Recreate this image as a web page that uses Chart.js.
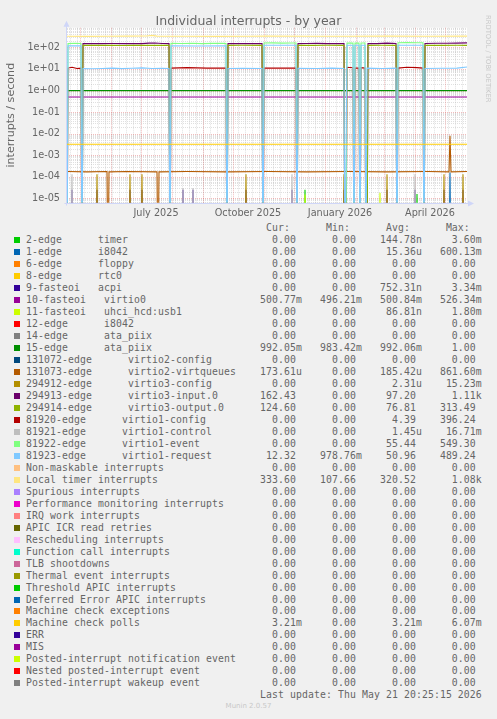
<!DOCTYPE html>
<html>
<head>
<meta charset="utf-8">
<script src="https://cdn.jsdelivr.net/npm/chart.js@4.4.1/dist/chart.umd.min.js"></script>
<style>
  html, body { margin:0; padding:0; background:#F0F0F0; }
  #page { position:relative; width:497px; height:719px; overflow:hidden; background:#F0F0F0; }
  #chart { position:absolute; left:0; top:0; }
  .row { position:absolute; left:26px; height:12px; line-height:12px; white-space:pre;
         font-family:"DejaVu Sans Mono", monospace; font-size:9.8px; letter-spacing:0.1px; color:#666; }
  .box { position:absolute; left:14px; width:6px; height:6px; }
  #title { position:absolute; left:0; top:12.5px; width:497px; text-align:center; line-height:15px;
           font-family:"DejaVu Sans", sans-serif; font-size:12.5px; color:#666; }
  #rrd { position:absolute; left:484px; top:15px; writing-mode:vertical-rl; white-space:pre;
         font-family:"DejaVu Sans", sans-serif; font-size:6.8px; color:#C8C8C8; }
  #munin { position:absolute; left:0; width:497px; top:702px; text-align:center;
           font-family:"DejaVu Sans", sans-serif; font-size:7px; color:#C8C8C8; }
</style>
</head>
<body>
<div id="page">
  <canvas id="chart" width="497" height="222"></canvas>
  <div id="title">Individual interrupts - by year</div>
  <div id="rrd">RRDTOOL / TOBI OETIKER</div>
  <div id="legend"></div>
  <div id="munin">Munin 2.0.57</div>
</div>
<script>
// ---------------- data (x = day index across the 400-day window, y = interrupts/s) ----------------
const seriesNames = [
  '2-edge      timer', '1-edge      i8042', '6-edge      floppy', '8-edge      rtc0',
  '9-fasteoi   acpi', '10-fasteoi   virtio0', '11-fasteoi   uhci_hcd:usb1', '12-edge      i8042',
  '14-edge      ata_piix', '15-edge      ata_piix', '131072-edge      virtio2-config',
  '131073-edge      virtio2-virtqueues', '294912-edge      virtio3-config',
  '294913-edge      virtio3-input.0', '294914-edge      virtio3-output.0',
  '81920-edge      virtio1-config', '81921-edge      virtio1-control',
  '81922-edge      virtio1-event', '81923-edge      virtio1-request',
  'Non-maskable interrupts', 'Local timer interrupts', 'Spurious interrupts',
  'Performance monitoring interrupts', 'IRQ work interrupts', 'APIC ICR read retries',
  'Rescheduling interrupts', 'Function call interrupts', 'TLB shootdowns',
  'Thermal event interrupts', 'Threshold APIC interrupts', 'Deferred Error APIC interrupts',
  'Machine check exceptions', 'Machine check polls', 'ERR', 'MIS',
  'Posted-interrupt notification event', 'Nested posted-interrupt event', 'Posted-interrupt wakeup event'
];
const seriesColors = [
  '#00CC00','#0066B3','#FF8000','#FFCC00','#330099','#990099','#CCFF00','#FF0000','#808080','#008F00',
  '#00487D','#B35A00','#B38F00','#6B006B','#8FB300','#B30000','#BEBEBE','#80FF80','#80C9FF','#FFC080',
  '#FFE680','#AA80FF','#EE00CC','#FF8080','#666600','#FFBFFF','#00FFCC','#CC6699','#999900','#00CC00',
  '#0066B3','#FF8000','#FFCC00','#330099','#990099','#CCFF00','#FF0000','#808080'
];
const curVals = ['0.00','0.00','0.00','0.00','0.00','500.77m','0.00','0.00','0.00','992.05m','0.00','173.61u','0.00','162.43','124.60','0.00','0.00','0.00','12.32','0.00','333.60','0.00','0.00','0.00','0.00','0.00','0.00','0.00','0.00','0.00','0.00','0.00','3.21m','0.00','0.00','0.00','0.00','0.00'];
const minVals = ['0.00','0.00','0.00','0.00','0.00','496.21m','0.00','0.00','0.00','983.42m','0.00','0.00','0.00','0.00','0.00','0.00','0.00','0.00','978.76m','0.00','107.66','0.00','0.00','0.00','0.00','0.00','0.00','0.00','0.00','0.00','0.00','0.00','0.00','0.00','0.00','0.00','0.00','0.00'];
const avgVals = ['144.78n','15.36u','0.00','0.00','752.31n','500.84m','86.81n','0.00','0.00','992.06m','0.00','185.42u','2.31u','97.20','76.81','4.39','1.45u','55.44','50.96','0.00','320.52','0.00','0.00','0.00','0.00','0.00','0.00','0.00','0.00','0.00','0.00','0.00','3.21m','0.00','0.00','0.00','0.00','0.00'];
const maxVals = ['3.60m','600.13m','0.00','0.00','3.34m','526.34m','1.80m','0.00','0.00','1.00','0.00','861.60m','15.23m','1.11k','313.49','396.24','16.71m','549.30','489.24','0.00','1.08k','0.00','0.00','0.00','0.00','0.00','0.00','0.00','0.00','0.00','0.00','0.00','6.07m','0.00','0.00','0.00','0.00','0.00'];

const yTickValues = [1e-5, 1e-4, 1e-3, 1e-2, 1e-1, 1e0, 1e1, 1e2];
const yTickLabels = ['1e-05','1e-04','1e-03','1e-02','1e-01','1e+00','1e+01','1e+02'];
const xTickDays = [89, 181, 273, 363];
const xTickLabels = ['July 2025','October 2025','January 2026','April 2026'];

// line series: [day, value]
const timerSpikes   = [[238, 2.5e-5], [350, 1.6e-5]];
const i8042Spikes   = [[383, 1.6e-4]];
const acpiSpikes    = [[5,2.5e-5],[30,2.5e-5],[63,2.5e-5],[75,2.5e-5],[116,2.5e-5],[126,2.5e-5],[179,2.5e-5],[225,2.5e-5],[277,2.5e-5],[320,2.5e-5],[348,2.5e-5],[377,2.5e-5],[396,2.5e-5]];
const virtio0Line   = [[0,0.5008],[100,0.5006],[200,0.5010],[300,0.5008],[400,0.5008]];
const uhciSpikes    = [[238,1.5e-5],[313,1.8e-5],[357,1.6e-5]];
const ataPiix15Line = [[0,0.992],[100,0.992],[200,0.992],[300,0.992],[400,0.992]];
const vqueuesLine   = [[0,1.75e-4],[20,1.7e-4],[40,1.75e-4],[41,0],[42,1.7e-4],[60,1.75e-4],[90,1.7e-4],[91,0],[92,1.7e-4],[120,1.75e-4],[160,1.7e-4],[200,1.75e-4],[240,1.7e-4],[280,1.75e-4],[320,1.7e-4],[360,1.75e-4],[382,1.7e-4],[383,8e-3],[384,1.7e-4],[400,1.75e-4]];
const v3ConfigSpikes= [[30,1.3e-4],[63,1.3e-4],[75,1.3e-4],[179,1.3e-4],[277,1.3e-4],[320,1.3e-4],[377,1.3e-4],[396,1.3e-4]];
const v3InputLine   = [[0,0],[15,0],[16,150],[25,152],[35,150],[45,151],[55,149],[65,152],[75,150],[82,158],[88,160],[95,152],[102,150],[103,0],[160,0],[161,150],[170,150],[180,152],[190,150],[195,150],[196,0],[230,0],[231,150],[240,151],[250,153],[260,150],[270,152],[277,150],[278,0],[300,0],[301,152],[310,150],[320,158],[329,152],[330,0],[357,0],[358,152],[370,155],[380,155],[390,158],[400,162]];
const v3OutputLine  = [[0,0],[15,0],[16,125],[25,124],[35,126],[45,124],[55,123],[65,125],[75,124],[85,126],[95,124],[102,125],[103,0],[160,0],[161,124],[175,125],[195,124],[196,0],[230,0],[231,125],[245,124],[260,125],[277,124],[278,0],[300,0],[301,124],[315,125],[329,124],[330,0],[357,0],[358,125],[375,124],[390,125],[400,124.6]];
const v1ConfigLine  = [[0,0],[1,11],[5,12],[10,10.5],[14,11],[15,0],[103,0],[104,11],[120,11.5],[140,11],[159,11],[160,0],[196,0],[197,11],[229,11],[230,0],[279,0],[280,12],[286,11.5],[287,0],[288,11],[292,11],[293,0],[294,11.5],[298,11],[299,0],[330,0],[331,11],[340,12],[350,11.5],[356,11],[357,0],[400,0]];
const v1ControlSpikes = [[5,1.3e-4],[116,3e-5],[126,3e-5],[225,1.3e-4],[348,1.3e-4]];
const v1EventLine   = [[0,0],[1,150],[8,155],[14,152],[15,0],[103,0],[104,155],[115,152],[125,155],[135,150],[145,153],[155,155],[159,152],[160,0],[196,0],[197,160],[205,162],[215,158],[225,160],[229,160],[230,0],[279,0],[280,160],[286,158],[287,0],[288,158],[292,158],[293,0],[294,160],[298,160],[299,0],[330,0],[331,165],[340,168],[350,165],[356,165],[357,0],[400,0]];
const v1RequestLine = [[0,0],[1,118],[14,118],[15,0],[16,10.5],[25,10.2],[35,10.6],[45,11],[55,10.4],[65,10.8],[75,11.2],[85,10.5],[95,10.8],[102,10.5],[103,0],[104,118],[130,116],[159,118],[160,0],[161,10.5],[175,10.8],[195,10.5],[196,0],[197,125],[229,125],[230,0],[231,10.8],[250,10.5],[265,11],[277,10.5],[278,0],[280,125],[286,125],[287,0],[288,125],[292,125],[293,0],[294,125],[298,125],[299,0],[300,11],[315,10.5],[329,11],[330,0],[331,125],[356,125],[357,0],[358,10.5],[375,10.8],[390,11],[400,12.3]];
const locLine       = [[0,330],[20,325],[40,330],[60,335],[80,340],[85,360],[90,335],[120,330],[150,325],[180,330],[200,335],[240,330],[280,330],[320,335],[360,330],[400,334]];
const mcpLine       = [[0,0.00321],[100,0.00321],[200,0.00321],[300,0.00321],[400,0.00321]];

// ---------------- chart ----------------
const Y_MIN = 6.3e-6, Y_MAX = 820, X_MAX = 400;
const BELOW = 1e-9; // log axis cannot show 0: draw zero values below the plot floor

function spikes(list) {
  const out = [[0, 0]];
  list.forEach(([d, v]) => { out.push([d - 1, 0], [d, v], [d + 1, 0]); });
  out.push([X_MAX, 0]);
  return out;
}
const seriesPoints = {
  0: spikes(timerSpikes), 1: spikes(i8042Spikes), 4: spikes(acpiSpikes), 5: virtio0Line,
  6: spikes(uhciSpikes), 9: ataPiix15Line, 11: vqueuesLine, 12: spikes(v3ConfigSpikes),
  13: v3InputLine, 14: v3OutputLine, 15: v1ConfigLine, 16: spikes(v1ControlSpikes),
  17: v1EventLine, 18: v1RequestLine, 20: locLine, 32: mcpLine
};
const datasets = seriesNames.map((name, i) => ({
  label: name,
  data: (seriesPoints[i] || [[0, 0], [X_MAX, 0]]).map(([d, v]) => ({ x: d, y: v > 0 ? v : BELOW })),
  borderColor: seriesColors[i],
  backgroundColor: seriesColors[i],
  borderWidth: 1.1,
  pointRadius: 0,
  tension: 0,
  fill: false,
  order: -i
}));

const BASE = Date.UTC(2025, 3, 18);
const dayOf = (y, m, d) => (Date.UTC(y, m, d) - BASE) / 86400000;

const rrdGrid = {
  id: 'rrdGrid',
  beforeDatasetsDraw(chart) {
    const { ctx, chartArea: a, scales: { x, y } } = chart;
    ctx.save();
    ctx.fillStyle = '#FFFFFF';
    ctx.fillRect(a.left, a.top, a.right - a.left, a.bottom - a.top);
    ctx.lineWidth = 1;
    ctx.setLineDash([1, 1]);
    const hline = (v) => { const p = Math.round(y.getPixelForValue(v)) + 0.5; ctx.beginPath(); ctx.moveTo(a.left, p); ctx.lineTo(a.right, p); ctx.stroke(); };
    const vline = (d) => { const p = Math.round(x.getPixelForValue(d)) + 0.5; ctx.beginPath(); ctx.moveTo(p, a.top); ctx.lineTo(p, a.bottom); ctx.stroke(); };
    ctx.strokeStyle = 'rgba(143,143,143,0.28)';
    for (let e = -6; e <= 3; e++) for (let m = 2; m <= 9; m++) { const v = m * Math.pow(10, e); if (v > Y_MIN && v < Y_MAX) hline(v); }
    for (let d = dayOf(2025, 3, 21); d < X_MAX; d += 7) vline(d);
    ctx.strokeStyle = 'rgba(222,79,79,0.38)';
    for (let e = -6; e <= 3; e++) { const v = Math.pow(10, e); if (v > Y_MIN && v < Y_MAX) hline(v); }
    for (let k = 0; k < 14; k++) { const d = dayOf(2025, 4 + k, 1); if (d > 0 && d < X_MAX) vline(d); }
    ctx.restore();
  },
  afterDatasetsDraw(chart) {
    const { ctx, chartArea: a } = chart;
    ctx.save();
    ctx.strokeStyle = '#CFD6F8'; ctx.fillStyle = '#CFD6F8'; ctx.lineWidth = 1;
    const by = Math.round(a.bottom) + 0.5, lx = Math.round(a.left) - 0.5;
    ctx.beginPath(); ctx.moveTo(lx - 2, by); ctx.lineTo(a.right + 2, by); ctx.stroke();
    ctx.beginPath(); ctx.moveTo(a.right + 1, by - 3); ctx.lineTo(a.right + 7, by); ctx.lineTo(a.right + 1, by + 3); ctx.closePath(); ctx.fill();
    ctx.beginPath(); ctx.moveTo(lx, by + 2); ctx.lineTo(lx, a.top - 2); ctx.stroke();
    ctx.beginPath(); ctx.moveTo(lx - 3, a.top - 1); ctx.lineTo(lx, a.top - 7); ctx.lineTo(lx + 3, a.top - 1); ctx.closePath(); ctx.fill();
    ctx.restore();
  }
};

const CH = 222, PLOT_BOTTOM = 202.7, PLOT_TOP = 27.7, PLOT_LEFT = 67, PLOT_RIGHT = 467;
new Chart(document.getElementById('chart'), {
  type: 'line',
  data: { datasets },
  options: {
    responsive: false, animation: false, events: [],
    layout: { padding: { left: 0, right: 497 - PLOT_RIGHT, top: PLOT_TOP, bottom: 0 } },
    plugins: { legend: { display: false }, tooltip: { enabled: false }, title: { display: false } },
    scales: {
      x: {
        type: 'linear', min: 0, max: X_MAX,
        grid: { display: false, drawTicks: false }, border: { display: false },
        afterFit(s) { s.height = CH - PLOT_BOTTOM; },
        afterBuildTicks(s) { s.ticks = xTickDays.map(v => ({ value: v })); },
        ticks: { autoSkip: false, maxRotation: 0, padding: 5, color: '#666',
                 font: { family: 'DejaVu Sans', size: 9.7 },
                 callback: (v) => xTickLabels[xTickDays.indexOf(v)] }
      },
      y: {
        type: 'logarithmic', min: Y_MIN, max: Y_MAX,
        grid: { display: false, drawTicks: false }, border: { display: false },
        afterFit(s) { s.width = PLOT_LEFT; },
        afterBuildTicks(s) { s.ticks = yTickValues.map(v => ({ value: v })); },
        ticks: { autoSkip: false, padding: 7, color: '#666',
                 font: { family: 'DejaVu Sans', size: 9.7 },
                 callback: (v) => yTickLabels[yTickValues.indexOf(v)] },
        title: { display: true, text: 'interrupts / second', color: '#666',
                 font: { family: 'DejaVu Sans', size: 11.1 }, padding: { top: 4, bottom: 0 } }
      }
    }
  },
  plugins: [rrdGrid]
});

// ---------------- legend (Munin style table) ----------------
const legend = document.getElementById('legend');
const ROW0 = 234.1, ROWH = 11.98;
function field(s) { const t = /[a-zA-Z]$/.test(s) ? s : s + ' '; return t.padStart(10); }
function addRow(i, text) {
  const d = document.createElement('div');
  d.className = 'row'; d.style.top = (ROW0 + ROWH * i) + 'px'; d.textContent = text;
  legend.appendChild(d);
}
addRow(-1, ' '.repeat(40) + 'Cur:      Min:      Avg:      Max:');
seriesNames.forEach((n, i) => {
  addRow(i, n.padEnd(36) + field(curVals[i]) + field(minVals[i]) + field(avgVals[i]) + field(maxVals[i]));
  const b = document.createElement('div');
  b.className = 'box'; b.style.top = (ROW0 + ROWH * i + 3) + 'px'; b.style.background = seriesColors[i];
  legend.appendChild(b);
});
addRow(seriesNames.length, ' '.repeat(39) + 'Last update: Thu May 21 20:25:15 2026');
</script>
</body>
</html>
